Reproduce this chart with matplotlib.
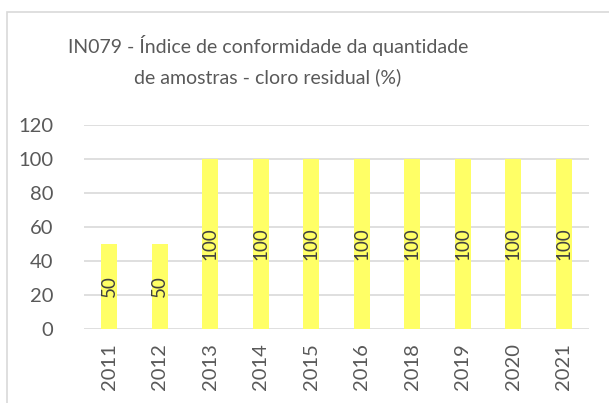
import numpy as np
import matplotlib.pyplot as plt
from matplotlib.patches import Rectangle

plt.rcParams['font.family'] = ['Lato', 'DejaVu Sans']

# dados
anos = ['2011', '2012', '2013', '2014', '2015', '2016', '2018', '2019', '2020', '2021']
valores = [50, 50, 100, 100, 100, 100, 100, 100, 100, 100]

cor_texto = '#595959'
cor_grade = '#D9D9D9'

fig = plt.figure(figsize=(6.09, 4.03), dpi=100)
ax = fig.add_axes([84 / 609, 1 - 329 / 403, 505 / 609, 204 / 403])

# moldura do gráfico (cortada à direita e embaixo)
fig.patches.append(Rectangle((7 / 609, -0.1), 1.0, 1 - 12 / 403 + 0.1,
                             transform=fig.transFigure, fill=False,
                             edgecolor=cor_grade, linewidth=1.2))

x = np.arange(len(anos))
barras = ax.bar(x, valores, width=0.32, color='#FFFF66', zorder=3)

for xi, v in zip(x, valores):
    ax.text(xi, v / 2, str(v), rotation=90, ha='center', va='center',
            fontsize=13.5, color='#404040', zorder=4)

ax.set_xlim(-0.5, len(anos) - 0.5)
ax.set_ylim(0, 120)
ax.set_yticks(range(0, 121, 20))
ax.set_xticks(x)
ax.set_xticklabels(anos, rotation=90)
ax.tick_params(axis='both', length=0, labelsize=14.5, colors=cor_texto)
ax.tick_params(axis='x', pad=10)
ax.tick_params(axis='y', pad=22)

ax.grid(axis='y', color=cor_grade, linewidth=1.2, zorder=0)
for s in ax.spines.values():
    s.set_visible(False)

fig.text(268 / 609, 1 - 46 / 403, 'IN079 - Índice de conformidade da quantidade',
         ha='center', va='center', fontsize=14, color=cor_texto)
fig.text(268 / 609, 1 - 77 / 403, 'de amostras - cloro residual (%)',
         ha='center', va='center', fontsize=14, color=cor_texto)

plt.savefig('out.png', dpi=100)
